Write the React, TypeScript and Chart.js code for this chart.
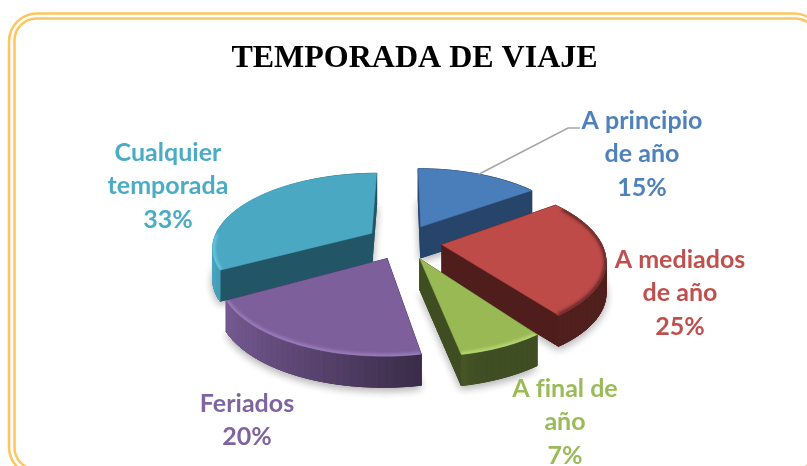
import React, { useEffect, useRef } from "react";
import { Chart, registerables } from "chart.js";

Chart.register(...registerables);

const chartTitle = "TEMPORADA DE VIAJE";
const categories = ["A principio de año", "A mediados de año", "A final de año", "Feriados", "Cualquier temporada"];
const shares = [15, 25, 7, 20, 33];
const sliceColours = ["#4A7EBB", "#BE4B48", "#98B954", "#7D5F9C", "#4AA8C3"];
const wallColours = ["#27456A", "#4F1D1B", "#3F4D22", "#3E2D54", "#225565"];
const labelColours = ["#4F81BD", "#C0504D", "#9BBB59", "#8064A2", "#4BACC6"];
const labelLines = [
  ["A principio", "de año", "15%"],
  ["A mediados", "de año", "25%"],
  ["A final de", "año", "7%"],
  ["Feriados", "20%"],
  ["Cualquier", "temporada", "33%"],
];

// Layout of the tilted pie (perspective projection)
const VIEW = { cx: 404, cy: 242, r: 159, d: 5.6, ry: 73.5, explode: 0.24, thick: 31 };
const LABEL_ANCHORS = [
  { x: 642, y: 121 },
  { x: 680, y: 260 },
  { x: 565, y: 389 },
  { x: 247, y: 404 },
  { x: 168, y: 153 },
];
const LINE_STEP = 33.4;

type Pt = { x: number; y: number };

function project(X: number, Z: number, drop = 0): Pt {
  const k = VIEW.d / (VIEW.d + Z);
  return {
    x: VIEW.cx + VIEW.r * X * k,
    y: VIEW.cy - VIEW.ry * Z * k + drop,
  };
}

function shade(hex: string, f: number, extra = 0): string {
  const n = parseInt(hex.slice(1), 16);
  const c = [(n >> 16) & 255, (n >> 8) & 255, n & 255].map((v) =>
    Math.min(255, Math.round(v * f + extra))
  );
  return `rgb(${c[0]},${c[1]},${c[2]})`;
}

function fillPoly(ctx: CanvasRenderingContext2D, pts: Pt[], colour: string, edge = 1) {
  ctx.beginPath();
  pts.forEach((p, i) => (i ? ctx.lineTo(p.x, p.y) : ctx.moveTo(p.x, p.y)));
  ctx.closePath();
  ctx.fillStyle = colour;
  ctx.strokeStyle = colour;
  ctx.lineWidth = edge;
  ctx.fill();
  ctx.stroke();
}

function drawSlice(ctx: CanvasRenderingContext2D, a0: number, a1: number, colour: string, wallColour: string) {
  const mid = (a0 + a1) / 2;
  const ox = Math.sin(mid) * VIEW.explode;
  const oz = Math.cos(mid) * VIEW.explode;
  const steps = Math.max(4, Math.round(((a1 - a0) * 180) / Math.PI / 2));
  const rim: { X: number; Z: number; a: number }[] = [];
  for (let i = 0; i <= steps; i++) {
    const a = a0 + ((a1 - a0) * i) / steps;
    rim.push({ X: ox + Math.sin(a), Z: oz + Math.cos(a), a });
  }
  const top: Pt[] = [project(ox, oz), ...rim.map((p) => project(p.X, p.Z))];
  const bottom: Pt[] = [project(ox, oz, VIEW.thick), ...rim.map((p) => project(p.X, p.Z, VIEW.thick))];

  // soft ground shadow
  ctx.save();
  ctx.shadowColor = "rgba(0,0,0,0.32)";
  ctx.shadowBlur = 9;
  ctx.shadowOffsetY = 3;
  fillPoly(ctx, bottom, wallColour);
  ctx.restore();

  // walls, far ones first
  type Part = { z: number; pts: Pt[]; col: string };
  const parts: Part[] = [];
  const wall = (x1: number, z1: number, x2: number, z2: number, col: string) => {
    parts.push({
      z: (z1 + z2) / 2,
      pts: [project(x1, z1), project(x2, z2), project(x2, z2, VIEW.thick), project(x1, z1, VIEW.thick)],
      col,
    });
  };
  const first = rim[0];
  const last = rim[rim.length - 1];
  wall(ox, oz, first.X, first.Z, wallColour);
  wall(ox, oz, last.X, last.Z, wallColour);
  for (let i = 0; i < steps; i++) {
    const p = rim[i];
    const q = rim[i + 1];
    const sx = Math.sin((p.a + q.a) / 2);
    const f = Math.max(0.42, Math.min(1.03, 0.55 - 0.45 * sx));
    wall(p.X, p.Z, q.X, q.Z, shade(colour, f));
  }
  parts.sort((u, v) => v.z - u.z).forEach((p) => fillPoly(ctx, p.pts, p.col));

  // top face
  fillPoly(ctx, top, colour, 0.5);

  // bevel along the front of the rim
  ctx.save();
  ctx.beginPath();
  top.forEach((p, i) => (i ? ctx.lineTo(p.x, p.y) : ctx.moveTo(p.x, p.y)));
  ctx.closePath();
  ctx.clip();
  const facingRight = Math.sin(mid) > 0.6;
  ctx.filter = "blur(1.5px)";
  ctx.strokeStyle = facingRight ? shade(colour, 0.55) : shade(colour, 1, 30);
  ctx.lineWidth = 5;
  ctx.lineJoin = "round";
  ctx.beginPath();
  let started = false;
  rim.forEach((p) => {
    if ((p.Z - oz > 0.02 && !facingRight) || p.Z > 0.5) {
      started = false;
      return;
    }
    const s = project(p.X, p.Z);
    if (started) ctx.lineTo(s.x, s.y);
    else ctx.moveTo(s.x, s.y);
    started = true;
  });
  ctx.stroke();
  ctx.restore();
}

const framePlugin = {
  id: "frame",
  beforeDraw(chart: any) {
    const ctx = chart.ctx as CanvasRenderingContext2D;
    ctx.save();
    ctx.strokeStyle = "#FDC65E";
    ctx.lineWidth = 2.5;
    ctx.beginPath();
    ctx.roundRect(9, 13.5, 813, 461.5, 28);
    ctx.stroke();
    ctx.beginPath();
    ctx.roundRect(14.5, 18.5, 802.5, 451, 22);
    ctx.stroke();
    ctx.restore();
  },
};

const pie3dPlugin = {
  id: "pie3d",
  beforeDatasetsDraw(chart: any) {
    const ctx = chart.ctx as CanvasRenderingContext2D;
    const meta = chart.getDatasetMeta(0);
    const slices = meta.data.map((arc: any, i: number) => {
      const a0 = arc.startAngle + Math.PI / 2;
      const a1 = arc.endAngle + Math.PI / 2;
      return { i, a0, a1, colour: arc.options.backgroundColor as string, depth: Math.cos((a0 + a1) / 2) };
    });

    ctx.save();
    slices
      .slice()
      .sort((u: any, v: any) => v.depth - u.depth)
      .forEach((s: any) => drawSlice(ctx, s.a0, s.a1, s.colour, wallColours[s.i]));

    // leader line of the first slice
    const s0 = slices[0];
    const m = (s0.a0 + s0.a1) / 2;
    const from = project(
      Math.sin(m) * VIEW.explode + Math.sin(m),
      Math.cos(m) * VIEW.explode + Math.cos(m)
    );
    ctx.strokeStyle = "#A6A6A6";
    ctx.lineWidth = 1.6;
    ctx.beginPath();
    ctx.moveTo(from.x, from.y);
    ctx.lineTo(568, 128);
    ctx.lineTo(580, 128);
    ctx.stroke();

    // data labels
    ctx.font = 'bold 25px Lato, "Open Sans", sans-serif';
    (ctx as any).letterSpacing = "0.01px";
    ctx.textAlign = "center";
    ctx.textBaseline = "middle";
    labelLines.forEach((lines, i) => {
      ctx.fillStyle = labelColours[i];
      lines.forEach((t, j) => ctx.fillText(t, LABEL_ANCHORS[i].x, LABEL_ANCHORS[i].y + j * LINE_STEP));
    });
    ctx.restore();
    return false;
  },
};

export default function App() {
  const ref = useRef<HTMLCanvasElement>(null);
  useEffect(() => {
    const chart = new Chart(ref.current!, {
      type: "pie",
      data: {
        labels: categories,
        datasets: [{ data: shares, backgroundColor: sliceColours, borderWidth: 0 }],
      },
      options: {
        responsive: false,
        animation: false,
        rotation: 0,
        layout: { padding: { left: 22 } },
        plugins: {
          legend: { display: false },
          tooltip: { enabled: false },
          title: {
            display: true,
            text: chartTitle,
            color: "#000000",
            font: { family: '"Liberation Serif", serif', size: 32, weight: "bold" },
            padding: { top: 40, bottom: 10 },
          },
        },
      },
      plugins: [framePlugin, pie3dPlugin],
    } as any);
    return () => chart.destroy();
  }, []);
  return (
    <canvas
      ref={ref}
      width={807}
      height={466}
      style={{ position: "fixed", left: 0, top: 0, width: 807, height: 466, display: "block" }}
    />
  );
}
